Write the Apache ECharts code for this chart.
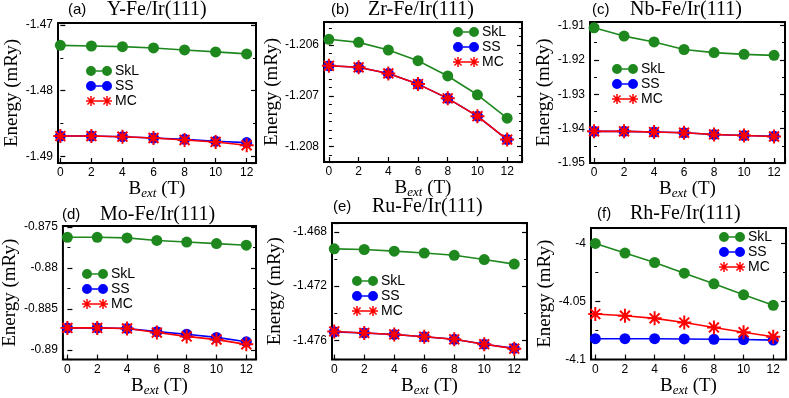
<!DOCTYPE html>
<html>
<head>
<meta charset="utf-8">
<script src="https://cdn.jsdelivr.net/npm/echarts@6/dist/echarts.min.js"></script>
<style>
html, body { margin: 0; padding: 0; background: #fff; }
#chart { width: 789px; height: 398px; }
</style>
</head>
<body>
<div id="chart"></div>
<script>
// external field B_ext (T), same for every panel
var bField = [0, 2, 4, 6, 8, 10, 12];
var bStep = 2;

// (a) Y-Fe/Ir(111)
var yfeSkL = [-1.4731, -1.4732, -1.4733, -1.4735, -1.4738, -1.4741, -1.4744];
var yfeSS  = [-1.4869, -1.4869, -1.4870, -1.4872, -1.4874, -1.4877, -1.4879];
var yfeMC  = [-1.4869, -1.4869, -1.4870, -1.4872, -1.4875, -1.4878, -1.4883];
var yfeTicks = [-1.49, -1.48, -1.47];

// (b) Zr-Fe/Ir(111)
var zrfeSkL = [-1.20589, -1.20595, -1.20610, -1.20631, -1.20661, -1.20698, -1.20744];
var zrfeSS  = [-1.20641, -1.20644, -1.20656, -1.20677, -1.20705, -1.20740, -1.20786];
var zrfeMC  = [-1.20641, -1.20644, -1.20656, -1.20677, -1.20705, -1.20740, -1.20786];
var zrfeTicks = [-1.208, -1.207, -1.206];

// (c) Nb-Fe/Ir(111)
var nbfeSkL = [-1.9107, -1.9131, -1.9148, -1.9170, -1.9179, -1.9184, -1.9187];
var nbfeSS  = [-1.9408, -1.9408, -1.9410, -1.9412, -1.9417, -1.9420, -1.9422];
var nbfeMC  = [-1.9408, -1.9408, -1.9410, -1.9412, -1.9417, -1.9420, -1.9423];
var nbfeTicks = [-1.95, -1.94, -1.93, -1.92, -1.91];

// (d) Mo-Fe/Ir(111)
var mofeSkL = [-0.87628, -0.87628, -0.87635, -0.87666, -0.87686, -0.87705, -0.87724];
var mofeSS  = [-0.88733, -0.88733, -0.88740, -0.88779, -0.88810, -0.88849, -0.88903];
var mofeMC  = [-0.88733, -0.88733, -0.88740, -0.88790, -0.88837, -0.88876, -0.88934];
var mofeTicks = [-0.89, -0.885, -0.88, -0.875];

// (e) Ru-Fe/Ir(111)
var rufeSkL = [-1.46924, -1.46929, -1.46941, -1.46955, -1.46972, -1.47003, -1.47037];
var rufeSS  = [-1.47538, -1.47546, -1.47557, -1.47574, -1.47593, -1.47629, -1.47660];
var rufeMC  = [-1.47535, -1.47546, -1.47557, -1.47574, -1.47593, -1.47629, -1.47662];
var rufeTicks = [-1.476, -1.472, -1.468];

// (f) Rh-Fe/Ir(111)
var rhfeSkL = [-4.0000, -4.0083, -4.0164, -4.0256, -4.0348, -4.0442, -4.0533];
var rhfeSS  = [-4.0820, -4.0820, -4.0820, -4.0822, -4.0825, -4.0827, -4.0832];
var rhfeMC  = [-4.0608, -4.0622, -4.0645, -4.0681, -4.0723, -4.0764, -4.0803];
var rhfeTicks = [-4.1, -4.05, -4];

var GREEN = '#1e881e', BLUE = '#0000ff', RED = '#ff0000';
var SANS = 'Liberation Sans', SERIF = 'Liberation Serif';

// one rectangle "arm" of an asterisk, clockwise
function arm(cx, cy, r, t, deg) {
    var a = deg * Math.PI / 180, dx = Math.cos(a), dy = Math.sin(a), nx = Math.sin(a), ny = -Math.cos(a);
    var p = [
        [cx - r * dx + t * nx, cy - r * dy + t * ny],
        [cx + r * dx + t * nx, cy + r * dy + t * ny],
        [cx + r * dx - t * nx, cy + r * dy - t * ny],
        [cx - r * dx - t * nx, cy - r * dy - t * ny]
    ];
    return 'M' + p.map(function (q) { return q[0].toFixed(2) + ' ' + q[1].toFixed(2); }).join('L') + 'Z';
}
function star(cx, cy, r, t) {
    return [0, 45, 90, 135].map(function (d) { return arm(cx, cy, r, t, d); }).join('');
}

var starSymbol = 'path://' + star(12, 12, 12, 1.7);
var dotIcon = 'path://M0 5A5 5 0 1 1 10 5A5 5 0 1 1 0 5ZM16 5A5 5 0 1 1 26 5A5 5 0 1 1 16 5ZM10 4.3L16 4.3L16 5.7L10 5.7Z';
var starIcon = 'path://' + star(5, 5, 5, 0.75) + star(21, 5, 5, 0.75) + 'M10 4.3L16 4.3L16 5.7L10 5.7Z';

var panels = [
    { tag: '(a)', name: 'Y-Fe/Ir(111)', skl: yfeSkL, ss: yfeSS, mc: yfeMC, ticks: yfeTicks,
      grid: [58, 23, 198, 140], x: [-0.15, 12.6], y: [-1.491, -1.4697], minor: 2,
      title: [68, 0, 39], ygap: 33, legend: [86, 64] },
    { tag: '(b)', name: 'Zr-Fe/Ir(111)', skl: zrfeSkL, ss: zrfeSS, mc: zrfeMC, ticks: zrfeTicks,
      grid: [324, 22, 198, 140], x: [-0.33, 13], y: [-1.2083, -1.20555], minor: 6,
      title: [331, 0, 37], ygap: 39, legend: [453, 25] },
    { tag: '(c)', name: 'Nb-Fe/Ir(111)', skl: nbfeSkL, ss: nbfeSS, mc: nbfeMC, ticks: nbfeTicks,
      grid: [590, 22, 195, 141], x: [-0.27, 12.73], y: [-1.95, -1.909], minor: 2,
      title: [592, 0, 38], ygap: 33, legend: [612, 62] },
    { tag: '(d)', name: 'Mo-Fe/Ir(111)', skl: mofeSkL, ss: mofeSS, mc: mofeMC, ticks: mofeTicks,
      grid: [58, 226, 198, 140], x: [-0.3, 12.65], y: [-0.8912, -0.8749], minor: 2,
      title: [62, 205, 38], ygap: 39, legend: [82, 267] },
    { tag: '(e)', name: 'Ru-Fe/Ir(111)', skl: rufeSkL, ss: rufeSS, mc: rufeMC, ticks: rufeTicks,
      grid: [332, 223, 195, 141], x: [-0.15, 12.85], y: [-1.47743, -1.46733], minor: 2,
      title: [333, 197, 39], ygap: 47, legend: [352, 274] },
    { tag: '(f)', name: 'Rh-Fe/Ir(111)', skl: rhfeSkL, ss: rhfeSS, mc: rhfeMC, ticks: rhfeTicks,
      grid: [591, 228, 195, 138], x: [-0.29, 12.86], y: [-4.1, -3.9867], minor: 2,
      title: [597, 204, 33], ygap: 34, legend: [719, 230] }
];

function tickFmt(step) {
    return function (v) {
        var k = v / step;
        if (Math.abs(k - Math.round(k)) > 1e-6) return '';
        return String(+(Math.round(k) * step).toFixed(6));
    };
}

function pts(ys) {
    return bField.map(function (b, i) { return [b, ys[i]]; });
}

var tickStyle = { show: true, inside: true, length: 5, lineStyle: { color: '#000', width: 1.2 } };
var minorStyle = { show: true, length: 3, lineStyle: { color: '#000', width: 1 } };

var option = {
    animation: false,
    backgroundColor: '#fff',
    title: [], grid: [], xAxis: [], yAxis: [], legend: [], series: []
};

panels.forEach(function (p, i) {
    var step = +(p.ticks[1] - p.ticks[0]).toFixed(6);
    option.title.push({
        left: p.title[0], top: p.title[1], padding: 0,
        text: '{p|' + p.tag + '}{n|' + p.name + '}',
        textStyle: {
            fontWeight: 'normal',
            rich: {
                p: { fontFamily: SANS, fontSize: 15, fontWeight: 'normal', color: '#000', width: p.title[2] },
                n: { fontFamily: SERIF, fontSize: 20, fontWeight: 'normal', color: '#000' }
            }
        }
    });
    option.grid.push({
        left: p.grid[0], top: p.grid[1], width: p.grid[2], height: p.grid[3],
        show: true, borderColor: '#000', borderWidth: 2
    });
    option.xAxis.push({
        type: 'value', gridIndex: i, min: p.x[0], max: p.x[1],
        minInterval: bStep, maxInterval: bStep,
        axisLine: { show: false }, splitLine: { show: false },
        axisTick: tickStyle,
        axisLabel: { margin: 4, fontFamily: SANS, fontSize: 12, color: '#000', formatter: tickFmt(bStep) },
        name: '{b|B}{s|ext}{t| (T)}', nameLocation: 'middle', nameGap: 12,
        nameTextStyle: {
            rich: {
                b: { fontFamily: SERIF, fontSize: 19, color: '#000', lineHeight: 22 },
                s: { fontFamily: SERIF, fontSize: 13, fontStyle: 'italic', color: '#000', lineHeight: 13, verticalAlign: 'bottom' },
                t: { fontFamily: SERIF, fontSize: 19, color: '#000', lineHeight: 22 }
            }
        }
    });
    option.yAxis.push({
        type: 'value', gridIndex: i, min: p.y[0], max: p.y[1],
        minInterval: step, maxInterval: step, scale: true,
        axisLine: { show: false }, splitLine: { show: false },
        axisTick: tickStyle,
        minorTick: Object.assign({ splitNumber: p.minor }, minorStyle),
        axisLabel: { margin: 5, fontFamily: SANS, fontSize: 12, color: '#000', formatter: tickFmt(step) },
        name: 'Energy (mRy)', nameLocation: 'middle', nameGap: p.ygap,
        nameTextStyle: { fontFamily: SERIF, fontSize: 19, color: '#000' }
    });
    option.yAxis.push({
        type: 'value', gridIndex: i, position: 'right', min: p.y[0], max: p.y[1],
        minInterval: step, maxInterval: step, scale: true,
        axisLine: { show: false }, splitLine: { show: false },
        axisTick: tickStyle,
        minorTick: Object.assign({ splitNumber: p.minor }, minorStyle),
        axisLabel: { show: false }
    });
    option.legend.push({
        left: p.legend[0], top: p.legend[1], padding: 0,
        orient: 'vertical', itemWidth: 26, itemHeight: 10, itemGap: 1,
        selectedMode: false,
        textStyle: { fontFamily: SANS, fontSize: 14, color: '#000', padding: [0, 0, 0, -2] },
        data: [
            { name: 'SkL', icon: dotIcon },
            { name: 'SS', icon: dotIcon },
            { name: 'MC', icon: starIcon }
        ]
    });
    [
        { name: 'SkL', data: p.skl, color: GREEN, symbol: 'circle', size: 11 },
        { name: 'SS', data: p.ss, color: BLUE, symbol: 'circle', size: 11 },
        { name: 'MC', data: p.mc, color: RED, symbol: starSymbol, size: 14 }
    ].forEach(function (s) {
        option.series.push({
            type: 'line', name: s.name, xAxisIndex: i, yAxisIndex: i * 2,
            data: pts(s.data), symbol: s.symbol, symbolSize: s.size,
            showSymbol: true, silent: true,
            itemStyle: { color: s.color },
            lineStyle: { color: s.color, width: 1.6 },
            emphasis: { disabled: true }
        });
    });
});

var chart = echarts.init(document.getElementById('chart'));
chart.setOption(option);
</script>
</body>
</html>
